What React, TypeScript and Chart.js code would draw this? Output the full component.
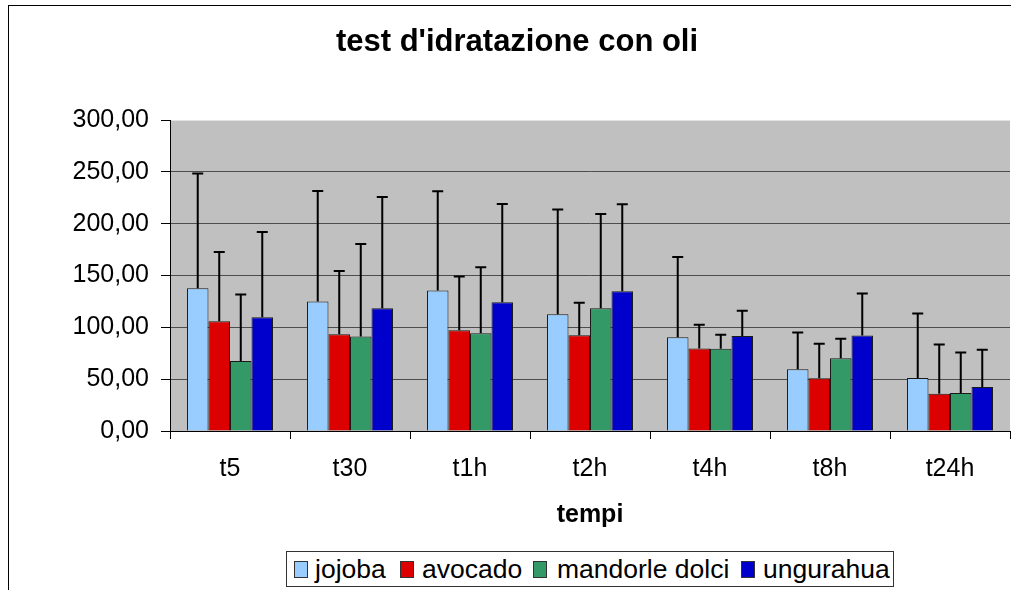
import React, { useEffect, useRef } from "react";
import { Chart, registerables } from "chart.js";

Chart.register(...registerables);

const categories = ["t5", "t30", "t1h", "t2h", "t4h", "t8h", "t24h"];
const seriesNames = ["jojoba", "avocado", "mandorle dolci", "ungurahua"];
const jojoba = [137.8, 125.0, 135.6, 112.8, 90.6, 59.7, 51.1];
const avocado = [106.0, 93.5, 97.3, 92.5, 79.7, 50.8, 36.0];
const mandorle = [67.5, 91.2, 94.4, 118.5, 79.3, 70.3, 36.6];
const ungurahua = [109.9, 118.5, 124.3, 134.9, 91.6, 92.2, 42.4];
const jojobaSd = [110.8, 106.6, 95.7, 101.1, 77.4, 35.4, 62.3];
const avocadoSd = [66.8, 61.0, 51.8, 31.2, 22.8, 33.4, 47.5];
const mandorleSd = [64.2, 89.3, 63.6, 90.9, 13.5, 18.7, 39.2];
const ungurahuaSd = [82.2, 107.3, 94.8, 83.9, 24.4, 40.5, 36.0];
const yMin = 0;
const yMax = 300;
const yStep = 50;
const titleText = "test d'idratazione con oli";
const xTitle = "tempi";

const seriesValues = [jojoba, avocado, mandorle, ungurahua];
const seriesSd = [jojobaSd, avocadoSd, mandorleSd, ungurahuaSd];
const colors = ["#99CCFF", "#DD0000", "#339966", "#0000CC"];
const FONT = "'Liberation Sans', Arial, sans-serif";
const legendSwatchX = [7, 113, 246, 454];
const legendTextX = [28, 135, 270, 476];

const plotBg = {
  id: "plotBg",
  beforeDraw(chart: any) {
    const { ctx, chartArea: a } = chart;
    ctx.save();
    ctx.fillStyle = "#C0C0C0";
    ctx.fillRect(a.left, a.top, a.right - a.left, a.bottom - a.top);
    ctx.restore();
  },
};

const errorBars = {
  id: "errorBars",
  afterDatasetsDraw(chart: any) {
    const { ctx } = chart;
    const y = chart.scales.y;
    ctx.save();
    ctx.strokeStyle = "#000";
    ctx.lineWidth = 2;
    chart.data.datasets.forEach((ds: any, i: number) => {
      const meta = chart.getDatasetMeta(i);
      const sd = seriesSd[i];
      meta.data.forEach((el: any, j: number) => {
        const v = ds.data[j];
        const base = y.getPixelForValue(v);
        const top = y.getPixelForValue(v + sd[j]);
        ctx.beginPath();
        ctx.moveTo(el.x, base);
        ctx.lineTo(el.x, top);
        ctx.moveTo(el.x - 5.5, top);
        ctx.lineTo(el.x + 5.5, top);
        ctx.stroke();
      });
    });
    ctx.restore();
  },
};

export default function App() {
  const ref = useRef<HTMLCanvasElement | null>(null);

  useEffect(() => {
    if (!ref.current) return;
    const chart = new Chart(ref.current, {
      type: "bar",
      data: {
        labels: categories,
        datasets: seriesNames.map((name, i) => ({
          label: name,
          data: seriesValues[i],
          backgroundColor: colors[i],
          borderColor: "#1a1a1a",
          borderWidth: 1,
          categoryPercentage: 0.717,
          barPercentage: 1,
        })),
      },
      options: {
        responsive: false,
        animation: false,
        layout: { padding: 0 },
        plugins: {
          legend: { display: false },
          tooltip: { enabled: false },
          title: {
            display: true,
            text: titleText,
            color: "#000",
            font: { family: FONT, size: 31, weight: "bold" },
            padding: { top: 24, bottom: 59 },
          },
        },
        scales: {
          x: {
            border: { color: "#000", width: 1 },
            grid: {
              drawOnChartArea: false,
              tickLength: 8,
              tickColor: "#000",
            },
            ticks: {
              color: "#000",
              font: { family: FONT, size: 25 },
              padding: 15,
              maxRotation: 0,
            },
            title: {
              display: true,
              text: xTitle,
              color: "#000",
              font: { family: FONT, size: 25, weight: "bold" },
              padding: { top: 0, bottom: 60 },
            },
            afterFit: (s: any) => {
              s.height = 159;
            },
          },
          y: {
            min: yMin,
            max: yMax,
            border: { color: "#000", width: 1 },
            grid: {
              color: (c: any) => (c.tick && c.tick.value === yMax ? "#e4e4e4" : "#4d4d4d"),
              tickLength: 9,
              tickColor: "#000",
            },
            ticks: {
              stepSize: yStep,
              color: "#000",
              font: { family: FONT, size: 25 },
              padding: 12,
              callback: (v: any) => Number(v).toFixed(2).replace(".", ","),
            },
            afterFit: (s: any) => {
              s.width = 170;
            },
          },
          spacer: {
            type: "linear",
            position: "right",
            display: true,
            grid: { display: false, drawTicks: false },
            border: { display: false },
            ticks: { display: false },
            afterFit: (s: any) => {
              s.width = 24;
            },
          },
        },
      },
      plugins: [plotBg, errorBars],
    } as any);
    return () => chart.destroy();
  }, []);

  return (
    <div
      style={{
        position: "fixed",
        left: 0,
        top: 0,
        width: 1011,
        height: 590,
        overflow: "hidden",
        background: "#fff",
      }}
    >
      <div
        style={{
          position: "absolute",
          left: 8,
          top: 5,
          width: 1100,
          height: 700,
          border: "1px solid #000",
          boxSizing: "border-box",
        }}
      />
      <canvas
        ref={ref}
        width={1034}
        height={590}
        style={{ position: "absolute", left: 0, top: 0, width: 1034, height: 590 }}
      />
      <div
        style={{
          position: "absolute",
          left: 286,
          top: 551,
          width: 608,
          height: 36,
          border: "1px solid #333",
          boxSizing: "border-box",
          fontFamily: FONT,
          fontSize: 25,
          color: "#000",
          whiteSpace: "nowrap",
          background: "#fff",
        }}
      >
        {seriesNames.map((name, i) => (
          <React.Fragment key={name}>
            <span
              style={{
                position: "absolute",
                left: legendSwatchX[i],
                top: 9,
                width: 12,
                height: 15,
                background: colors[i],
                border: "1px solid #333",
              }}
            />
            <span
              style={{
                position: "absolute",
                left: legendTextX[i],
                top: 1,
                lineHeight: "32px",
                display: "inline-block",
                transform: "scaleX(1.06)",
                transformOrigin: "left center",
              }}
            >
              {name}
            </span>
          </React.Fragment>
        ))}
      </div>
    </div>
  );
}
